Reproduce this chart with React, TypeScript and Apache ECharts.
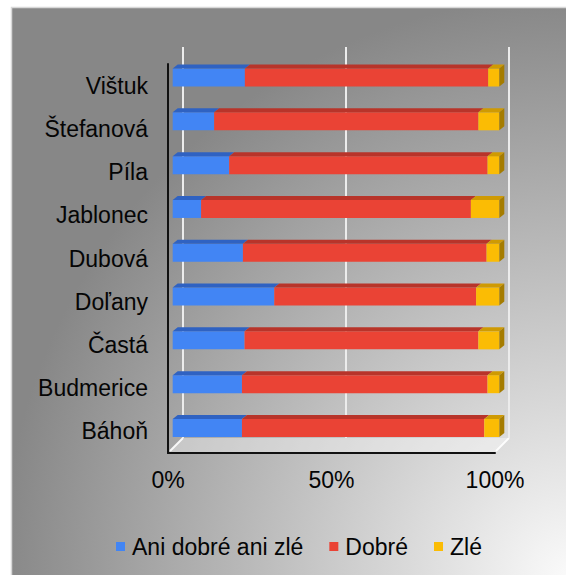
import React, { useEffect, useRef } from 'react';
import * as echarts from 'echarts';

// Categories listed bottom-to-top (category axis starts at the bottom)
const categories = ['Báhoň', 'Budmerice', 'Častá', 'Doľany', 'Dubová', 'Jablonec', 'Píla', 'Štefanová', 'Vištuk'];
const neutral = [21.2, 21.2, 22.0, 31.1, 21.5, 8.7, 17.3, 12.7, 22.1];
const good = [74.2, 75.2, 71.6, 61.8, 74.6, 82.6, 79.1, 80.9, 74.5];
const bad = [4.6, 3.6, 6.4, 7.1, 3.9, 8.7, 3.6, 6.4, 3.4];
const seriesNames = ['Ani dobré ani zlé', 'Dobré', 'Zlé'];
const xTickStep = 50;

const FONT = '"Liberation Sans", Arial, sans-serif';
const TEXT = '#050505';

const palette = [
  { front: '#4285f4', top: '#2f62c2', side: '#1f4ea0' },
  { front: '#ea4335', top: '#b8342a', side: '#8e261e' },
  { front: '#fbbc04', top: '#cf9a03', side: '#a57c00' },
];

function buildStacked() {
  const lists = [neutral, good, bad];
  const out: number[][][] = [[], [], []];
  categories.forEach((_, i) => {
    const total = neutral[i] + good[i] + bad[i];
    let acc = 0;
    lists.forEach((arr, s) => {
      const v = (arr[i] / total) * 100;
      out[s].push([i, acc, acc + v]);
      acc += v;
    });
  });
  return out;
}

const makeRender = (s: number, last: boolean) => (params: any, api: any) => {
  const cat = api.value(0);
  const a = api.coord([api.value(1), cat]);
  const b = api.coord([api.value(2), cat]);
  const h = 18;
  const dx = 5;
  const dy = -4;
  const y0 = a[1] - h / 2;
  const c = palette[s];
  const children: any[] = [
    { type: 'rect', shape: { x: a[0], y: y0, width: b[0] - a[0], height: h }, style: { fill: c.front } },
    {
      type: 'polygon',
      shape: { points: [[a[0], y0], [b[0], y0], [b[0] + dx, y0 + dy], [a[0] + dx, y0 + dy]] },
      style: { fill: c.top },
    },
  ];
  if (last) {
    children.push({
      type: 'polygon',
      shape: { points: [[b[0], y0], [b[0] + dx, y0 + dy], [b[0] + dx, y0 + dy + h], [b[0], y0 + h]] },
      style: { fill: c.side },
    });
  }
  return { type: 'group', children };
};

export default function App() {
  const ref = useRef<HTMLDivElement>(null);
  useEffect(() => {
    if (!ref.current) return;
    const chart = echarts.init(ref.current, undefined, { renderer: 'svg' });
    const stacked = buildStacked();

    const option: any = {
      animation: false,
      backgroundColor: '#ffffff',
      textStyle: { fontFamily: FONT },
      graphic: {
        elements: [
          {
            type: 'rect',
            z: -100,
            shape: { x: 11.5, y: 7.5, width: 560, height: 572 },
            style: {
              fill: new echarts.graphic.RadialGradient(1, 1, 1.02, [
                { offset: 0, color: '#fbfbfb' },
                { offset: 1, color: '#878787' },
              ]),
              stroke: '#d8d8d8',
              lineWidth: 1.5,
            },
          },
          {
            type: 'polygon',
            z: -50,
            shape: { points: [[168, 453], [495, 453], [509, 438], [183, 438]] },
            style: { fill: 'rgba(255,255,255,0.38)' },
          },
          {
            type: 'line',
            z: -40,
            shape: { x1: 183, y1: 438, x2: 170, y2: 451 },
            style: { stroke: 'rgba(255,255,255,0.9)', lineWidth: 2 },
          },
          {
            type: 'line',
            z: -40,
            shape: { x1: 509, y1: 438, x2: 496, y2: 451 },
            style: { stroke: 'rgba(255,255,255,0.9)', lineWidth: 2 },
          },
        ],
      },
      legend: {
        left: 111,
        top: 530,
        icon: 'rect',
        itemWidth: 9,
        itemHeight: 9,
        itemGap: 26,
        data: seriesNames,
        textStyle: { fontSize: 23, color: TEXT, fontFamily: FONT, padding: [0, 0, 0, 2] },
      },
      grid: [
        { left: 168, top: 64, width: 327, height: 389 },
        { left: 183, top: 47, width: 326, height: 391 },
        { left: 172.7, top: 55.6, width: 326.6, height: 394.3 },
      ],
      xAxis: [
        {
          gridIndex: 0,
          type: 'value',
          min: 0,
          max: 100,
          interval: xTickStep,
          axisLine: { show: true, lineStyle: { color: '#111', width: 2 } },
          axisTick: { show: false },
          splitLine: { show: false },
          axisLabel: {
            formatter: (v: number) => v + '%',
            fontSize: 23,
            color: TEXT,
            margin: 15,
            fontFamily: FONT,
          },
        },
        {
          gridIndex: 1,
          type: 'value',
          min: 0,
          max: 100,
          interval: xTickStep,
          axisLine: { show: false },
          axisTick: { show: false },
          axisLabel: { show: false },
          splitLine: { show: true, lineStyle: { color: '#ececec', width: 2 } },
        },
        { gridIndex: 2, type: 'value', min: 0, max: 100, show: false, splitLine: { show: false } },
      ],
      yAxis: [
        {
          gridIndex: 0,
          type: 'category',
          data: categories,
          axisLine: { show: true, lineStyle: { color: '#111', width: 2 } },
          axisTick: { show: false },
          splitLine: { show: false },
          axisLabel: { fontSize: 23, color: TEXT, margin: 20, fontFamily: FONT },
        },
        { gridIndex: 1, type: 'category', data: categories, show: false },
        { gridIndex: 2, type: 'category', data: categories, show: false },
      ],
      series: seriesNames.map((name, s) => ({
        name,
        type: 'custom',
        xAxisIndex: 2,
        yAxisIndex: 2,
        itemStyle: { color: palette[s].front },
        encode: { x: [1, 2], y: 0 },
        data: stacked[s],
        renderItem: makeRender(s, s === seriesNames.length - 1),
        z: 2 + s,
      })),
    };
    chart.setOption(option);
    return () => chart.dispose();
  }, []);

  return (
    <div style={{ position: 'fixed', left: 0, top: 0, width: 566, height: 575, background: '#fff' }}>
      <div ref={ref} style={{ width: 566, height: 575 }} />
    </div>
  );
}
